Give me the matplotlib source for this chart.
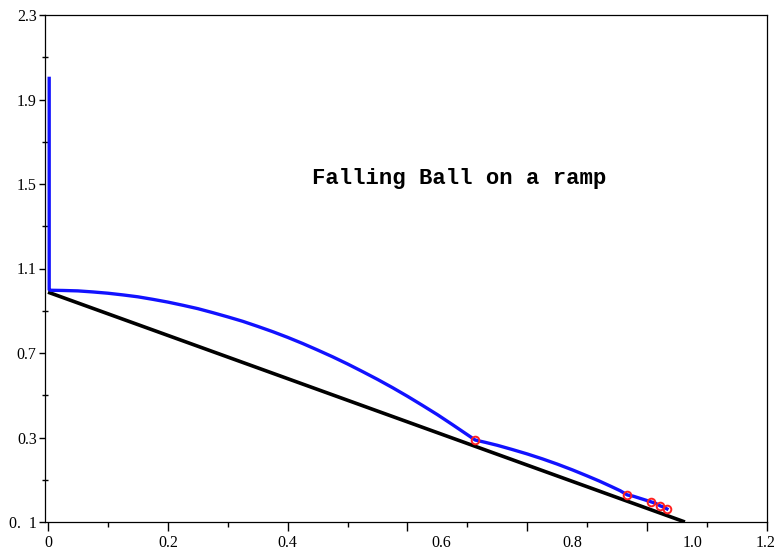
import matplotlib
matplotlib.use("Agg")
import matplotlib.pyplot as plt
from matplotlib.transforms import ScaledTranslation

# Ramp surface (straight incline)
ramp_x = [0.0, 1.063]
ramp_y = [0.988, -0.100]

# Ball trajectory: vertical drop, long flight, then short hops down the ramp
path_x = [0.002, 0.002, 0.004, 0.025, 0.05, 0.075, 0.10, 0.125, 0.15, 0.175, 0.20,
          0.225, 0.25, 0.275, 0.30, 0.325, 0.35, 0.375, 0.40, 0.425, 0.45,
          0.475, 0.50, 0.525, 0.55, 0.575, 0.60, 0.625, 0.65, 0.675, 0.70, 0.713,
          0.73, 0.75, 0.775, 0.80, 0.825, 0.85, 0.875, 0.90, 0.92, 0.94, 0.955, 0.967,
          0.977, 0.987, 0.997, 1.007, 1.015, 1.022, 1.028, 1.033]
path_y = [2.000, 1.000, 0.997, 0.996, 0.994, 0.989, 0.983, 0.975, 0.966, 0.954, 0.941,
          0.926, 0.910, 0.891, 0.871, 0.850, 0.826, 0.801, 0.774, 0.745, 0.714,
          0.682, 0.648, 0.612, 0.575, 0.536, 0.495, 0.452, 0.408, 0.361, 0.313, 0.288,
          0.277, 0.263, 0.243, 0.222, 0.199, 0.174, 0.147, 0.118, 0.094, 0.068, 0.048, 0.028,
          0.022, 0.013, 0.004, -0.005, -0.013, -0.024, -0.030, -0.038]

# Bounce points on the ramp
bounce_x = [0.713, 0.967, 1.007, 1.022, 1.033]
bounce_y = [0.288, 0.028, -0.005, -0.024, -0.038]

x_ticks = [0.0, 0.2, 0.4, 0.6, 0.8, 1.0, 1.2]
x_tick_labels = ["0", "0.2", "0.4", "0.6", "0.8", "1.0", "1.2"]
x_minor = [0.1, 0.3, 0.5, 0.7, 0.9, 1.1]
y_ticks = [-0.1, 0.3, 0.7, 1.1, 1.5, 1.9, 2.3]
y_tick_labels = ["0.  1", "0.3", "0.7", "1.1", "1.5", "1.9", "2.3"]
y_minor = [0.1, 0.5, 0.9, 1.3, 1.7, 2.1]

title_text = "Falling Ball on a ramp"

# horizontal shift (points) applied to each x tick label
x_label_shift = [0, 0, 0, 24.5, 32.4, 32.4, -1.0]

fig = plt.figure(figsize=(7.82, 5.53), dpi=100)
ax = fig.add_axes([45 / 782, 1 - 522 / 553, (767 - 45) / 782, (522 - 15) / 553])

ax.plot(ramp_x, ramp_y, color="black", lw=2.6, solid_capstyle="butt", zorder=2)
ax.plot(path_x, path_y, color="#1212ff", lw=2.4, solid_joinstyle="round", zorder=3)
ax.plot(bounce_x, bounce_y, ls="none", marker="o", ms=5.5, mfc="none",
        mec="#ff2020", mew=1.4, zorder=4)

ax.text(0.686, 1.525, title_text, family="Liberation Mono", fontweight="bold",
        fontsize=16, ha="center", va="center", color="black")

ax.set_xlim(-0.005, 1.2)
ax.set_ylim(-0.1, 2.3)

serif = "Liberation Serif"
ax.set_xticks(x_ticks)
ax.set_xticklabels(x_tick_labels, family=serif, fontsize=11.5)
ax.set_xticks(x_minor, minor=True)
ax.set_yticks(y_ticks)
ax.set_yticklabels(y_tick_labels, family=serif, fontsize=11.5)
ax.set_yticks(y_minor, minor=True)

ax.tick_params(axis="x", which="major", direction="out", length=6.5, width=1, pad=3)
ax.tick_params(axis="x", which="minor", direction="out", length=3.5, width=1)
ax.tick_params(axis="y", which="major", direction="out", length=4.5, width=1, pad=1.5)
ax.tick_params(axis="y", which="minor", direction="inout", length=4, width=1)

for lbl, dx in zip(ax.get_xticklabels(), x_label_shift):
    lbl.set_transform(lbl.get_transform() + ScaledTranslation(dx / 72, 0, fig.dpi_scale_trans))

for s in ax.spines.values():
    s.set_linewidth(0.9)
    s.set_color("black")

fig.savefig("out.png", dpi=100)
